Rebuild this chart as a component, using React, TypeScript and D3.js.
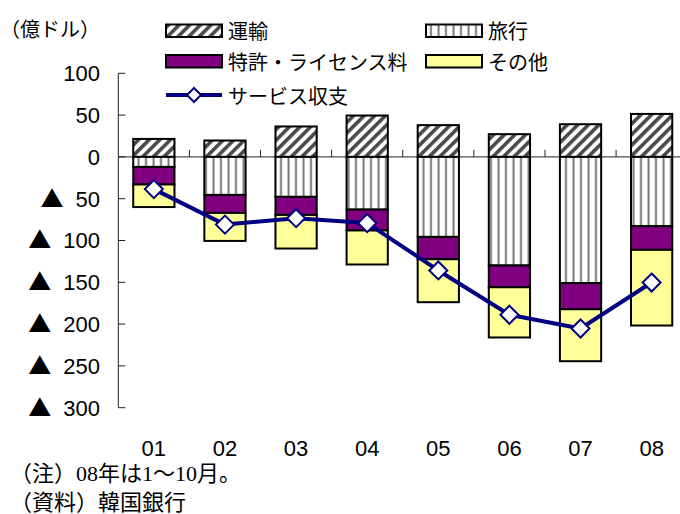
import React from "react";
import * as d3 from "d3";

const categories = ["01", "02", "03", "04", "05", "06", "07", "08"];
const transport = [21.5, 19.6, 36.4, 49.5, 38, 27.2, 39.1, 51.4];
const travel = [-12, -45.5, -47.8, -63, -95.7, -129.9, -151, -82.9];
const patent = [-21, -21.5, -21.6, -25, -26.7, -26, -31.2, -28.3];
const other = [-27, -33.5, -40.2, -40.7, -51.4, -60.1, -62.2, -90.5];
const balance = [-38.5, -81, -73.3, -79.2, -135.8, -188.8, -205.3, -150.3];
const yTicks = [100, 50, 0, -50, -100, -150, -200, -250, -300];

const seriesKeys = ["transport", "travel", "patent", "other"];
const seriesNames: Record<string, string> = {
  transport: "運輸",
  travel: "旅行",
  patent: "特許・ライセンス料",
  other: "その他",
  balance: "サービス収支",
};
const unitLabel = "（億ドル）";
const notes = ["（注）08年は1～10月。", "（資料）韓国銀行"];

const W = 680;
const H = 514;
const SANS = "'Liberation Sans', Arial, 'Noto Sans CJK JP', sans-serif";
const JSANS = "'Noto Sans CJK JP', 'Liberation Sans', sans-serif";
const SERIF = "'Liberation Serif', 'Noto Sans CJK JP', serif";

const fills: Record<string, string> = {
  transport: "url(#hatchDiag)",
  travel: "url(#hatchVert)",
  patent: "#800080",
  other: "#FFFF99",
};

export default function App() {
  const table = categories.map((c, i) => ({
    cat: c,
    transport: transport[i],
    travel: travel[i],
    patent: patent[i],
    other: other[i],
  }));
  const stacked = d3
    .stack<any>()
    .keys(seriesKeys)
    .offset(d3.stackOffsetDiverging)(table);

  const y = d3.scaleLinear().domain([-300, 100]).range([407.7, 73.3]);
  const x = d3
    .scaleBand<string>()
    .domain(categories)
    .range([118.3, 687.2])
    .paddingInner(0.42)
    .paddingOuter(0.21);
  const step = x.step();
  const x0 = 118.3;
  const zeroY = y(0);

  const line = d3
    .line<number>()
    .x((_, i) => (x(categories[i]) as number) + x.bandwidth() / 2)
    .y((d) => y(d));

  const diamond = (cx: number, cy: number, r: number) =>
    `M${cx},${cy - r}L${cx + r},${cy}L${cx},${cy + r}L${cx - r},${cy}Z`;

  const legendItems = [
    { key: "transport", x: 166, cy: 30.5 },
    { key: "travel", x: 426, cy: 30.5 },
    { key: "patent", x: 166, cy: 61 },
    { key: "other", x: 426, cy: 61 },
  ];

  return (
    <svg
      width={W}
      height={H}
      style={{ position: "absolute", left: 0, top: 0, background: "#fff" }}
    >
      <defs>
        <pattern
          id="hatchDiag"
          patternUnits="userSpaceOnUse"
          width={7.5}
          height={7.5}
          patternTransform="rotate(45)"
        >
          <rect width={7.5} height={7.5} fill="#fff" />
          <rect width={3.6} height={7.5} fill="#4a4a4a" />
        </pattern>
        <pattern
          id="hatchVert"
          patternUnits="userSpaceOnUse"
          width={7.5}
          height={10}
        >
          <rect width={7.5} height={10} fill="#fff" />
          <rect x={2.5} width={2} height={10} fill="#777" />
        </pattern>
      </defs>

      {/* unit label */}
      <text
        x={0}
        y={28}
        fontFamily={JSANS}
        fontSize={20}
        dominantBaseline="central"
        fill="#000"
      >
        {unitLabel}
      </text>

      {/* y axis */}
      <line x1={x0} x2={x0} y1={y(100)} y2={y(-300)} stroke="#222" strokeWidth={1} />
      {yTicks.map((t) => (
        <g key={t}>
          <line x1={x0} x2={x0 + 7} y1={y(t)} y2={y(t)} stroke="#222" strokeWidth={1} />
          <text
            x={100}
            y={y(t)}
            dy="0.36em"
            textAnchor="end"
            fontFamily={SANS}
            fontSize={22}
            fill="#000"
          >
            {t < 0 ? (
              <>
                <tspan fontFamily={JSANS} fontSize={23}>▲</tspan>
                <tspan dx={6}> {-t}</tspan>
              </>
            ) : (
              `${t}`
            )}
          </text>
        </g>
      ))}

      {/* x axis */}
      <line x1={x0} x2={W} y1={zeroY} y2={zeroY} stroke="#222" strokeWidth={1} />
      {categories.map((c, i) => (
        <line
          key={"t" + c}
          x1={x0 + step * (i + 1)}
          x2={x0 + step * (i + 1)}
          y1={zeroY}
          y2={zeroY - 7}
          stroke="#222"
          strokeWidth={1}
        />
      ))}
      {categories.map((c) => (
        <text
          key={"l" + c}
          x={(x(c) as number) + x.bandwidth() / 2}
          y={456}
          textAnchor="middle"
          fontFamily={SANS}
          fontSize={22}
          fill="#000"
        >
          {c}
        </text>
      ))}

      {/* bars */}
      {stacked.map((s) =>
        s.map((d, i) => {
          const top = y(Math.max(d[0], d[1]));
          const bot = y(Math.min(d[0], d[1]));
          return (
            <rect
              key={s.key + i}
              x={x(categories[i])}
              width={x.bandwidth()}
              y={top}
              height={bot - top}
              fill={fills[s.key]}
              stroke="#000"
              strokeWidth={2}
            />
          );
        })
      )}

      {/* balance line */}
      <path d={line(balance) || ""} fill="none" stroke="#000080" strokeWidth={4} strokeLinejoin="round" />
      {balance.map((v, i) => (
        <path
          key={"m" + i}
          d={diamond((x(categories[i]) as number) + x.bandwidth() / 2, y(v), 9)}
          fill="#fff"
          stroke="#000080"
          strokeWidth={2}
        />
      ))}

      {/* legend */}
      {legendItems.map((it) => (
        <g key={"lg" + it.key}>
          <rect
            x={it.x}
            y={it.cy - 6}
            width={56}
            height={12.5}
            fill={fills[it.key]}
            stroke="#000"
            strokeWidth={2}
          />
          <text
            x={it.x + 62}
            y={it.cy}
            dominantBaseline="central"
            fontFamily={JSANS}
            fontSize={20}
            fill="#000"
          >
            {seriesNames[it.key]}
          </text>
        </g>
      ))}
      <g>
        <line x1={166} x2={222} y1={95} y2={95} stroke="#000080" strokeWidth={4} />
        <path d={diamond(194, 95, 7)} fill="#fff" stroke="#000080" strokeWidth={2} />
        <text
          x={228}
          y={95}
          dominantBaseline="central"
          fontFamily={JSANS}
          fontSize={20}
          fill="#000"
        >
          {seriesNames.balance}
        </text>
      </g>

      {/* notes */}
      {notes.map((n, i) => (
        <text
          key={"n" + i}
          x={10}
          y={481 + i * 29}
          fontFamily={SERIF}
          fontSize={22}
          fill="#000"
        >
          {n}
        </text>
      ))}
    </svg>
  );
}
